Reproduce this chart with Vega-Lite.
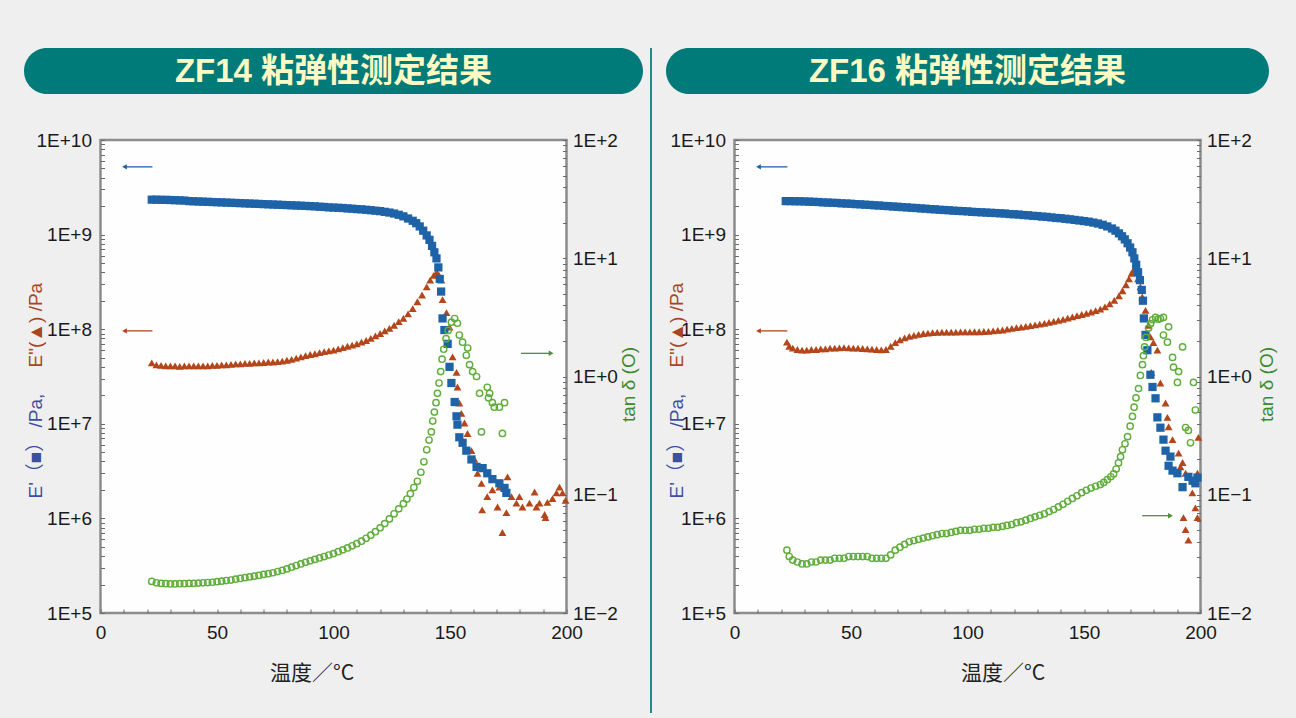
{
"$schema":"https://vega.github.io/schema/vega-lite/v6.json",
"background":"#efefef",
"padding":{"left":24,"top":48,"right":20,"bottom":5},
"config":{
 "font":"Liberation Sans",
 "view":{"stroke":"#8c8c8c","strokeWidth":2.5,"fill":"#fefefe"},
 "axis":{"labelFont":"Liberation Sans","labelFontSize":19,"labelColor":"#1a1a1a","titleFont":"Liberation Sans","titleFontSize":19,"titleFontWeight":"normal","grid":false,"domain":false,"tickColor":"#6a6a6a","tickWidth":1,"tickSize":-4,"labelOverlap":false,"labelFlush":false,"labelBound":false}
},
"datasets":{
 "e1a":[{"T":22,"v":2.34e9},{"T":24,"v":2.34e9},{"T":26,"v":2.33e9},{"T":28,"v":2.33e9},{"T":30,"v":2.32e9},{"T":32,"v":2.31e9},{"T":34,"v":2.30e9},{"T":36,"v":2.29e9},{"T":38,"v":2.26e9},{"T":40,"v":2.25e9},{"T":42,"v":2.24e9},{"T":44,"v":2.23e9},{"T":46,"v":2.22e9},{"T":48,"v":2.21e9},{"T":50,"v":2.20e9},{"T":52,"v":2.19e9},{"T":54,"v":2.18e9},{"T":56,"v":2.17e9},{"T":58,"v":2.16e9},{"T":60,"v":2.15e9},{"T":62,"v":2.14e9},{"T":64,"v":2.13e9},{"T":66,"v":2.12e9},{"T":68,"v":2.11e9},{"T":70,"v":2.10e9},{"T":72,"v":2.09e9},{"T":74,"v":2.08e9},{"T":76,"v":2.07e9},{"T":78,"v":2.06e9},{"T":80,"v":2.05e9},{"T":82,"v":2.04e9},{"T":84,"v":2.03e9},{"T":86,"v":2.02e9},{"T":88,"v":2.01e9},{"T":90,"v":2.0e9},{"T":92,"v":1.99e9},{"T":94,"v":1.97e9},{"T":96,"v":1.96e9},{"T":98,"v":1.94e9},{"T":100,"v":1.93e9},{"T":102,"v":1.92e9},{"T":104,"v":1.91e9},{"T":106,"v":1.89e9},{"T":108,"v":1.88e9},{"T":110,"v":1.86e9},{"T":112,"v":1.85e9},{"T":114,"v":1.83e9},{"T":116,"v":1.81e9},{"T":118,"v":1.79e9},{"T":120,"v":1.77e9},{"T":122,"v":1.74e9},{"T":124,"v":1.71e9},{"T":126,"v":1.67e9},{"T":128,"v":1.62e9},{"T":130,"v":1.56e9},{"T":132,"v":1.48e9},{"T":134,"v":1.4e9},{"T":135.5,"v":1.32e9},{"T":137,"v":1.22e9},{"T":138.5,"v":1.1e9},{"T":140,"v":9.8e8},{"T":141.2,"v":8.8e8},{"T":142.3,"v":7.6e8},{"T":143.3,"v":6.5e8},{"T":144.2,"v":5.6e8},{"T":145,"v":4.5e8},{"T":145.6,"v":3.4e8},{"T":146.2,"v":2.5e8},{"T":146.8,"v":1.3e8},{"T":147.6,"v":9.8e7},{"T":149,"v":7e7},{"T":149.8,"v":4e7},{"T":150.6,"v":2.7e7},{"T":152,"v":1.7e7},{"T":152.8,"v":1.2e7},{"T":153.2,"v":9.8e6},{"T":154,"v":7.2e6},{"T":155.4,"v":6.3e6},{"T":157,"v":5.2e6},{"T":159.2,"v":4.2e6},{"T":161.4,"v":3.5e6},{"T":164,"v":3.4e6},{"T":166,"v":3.0e6},{"T":168.2,"v":2.6e6},{"T":171.2,"v":2.35e6},{"T":173.4,"v":2.1e6},{"T":174.2,"v":1.86e6}],
 "e2a":[{"T":22,"v":4.4e7},{"T":24,"v":4.2e7},{"T":26,"v":4.15e7},{"T":28,"v":4.1e7},{"T":30,"v":4.1e7},{"T":32,"v":4.1e7},{"T":34,"v":4.05e7},{"T":36,"v":4.1e7},{"T":38,"v":4.1e7},{"T":40,"v":4.1e7},{"T":42,"v":4.1e7},{"T":44,"v":4.1e7},{"T":46,"v":4.1e7},{"T":48,"v":4.15e7},{"T":50,"v":4.15e7},{"T":52,"v":4.2e7},{"T":54,"v":4.2e7},{"T":56,"v":4.25e7},{"T":58,"v":4.3e7},{"T":60,"v":4.3e7},{"T":62,"v":4.35e7},{"T":64,"v":4.35e7},{"T":66,"v":4.4e7},{"T":68,"v":4.4e7},{"T":70,"v":4.45e7},{"T":72,"v":4.5e7},{"T":74,"v":4.5e7},{"T":76,"v":4.55e7},{"T":78,"v":4.6e7},{"T":80,"v":4.7e7},{"T":82,"v":4.8e7},{"T":84,"v":4.95e7},{"T":86,"v":5.1e7},{"T":88,"v":5.25e7},{"T":90,"v":5.4e7},{"T":92,"v":5.5e7},{"T":94,"v":5.65e7},{"T":96,"v":5.8e7},{"T":98,"v":5.9e7},{"T":100,"v":6.0e7},{"T":102,"v":6.2e7},{"T":104,"v":6.4e7},{"T":106,"v":6.6e7},{"T":108,"v":6.8e7},{"T":110,"v":7.0e7},{"T":112,"v":7.3e7},{"T":114,"v":7.6e7},{"T":116,"v":8.0e7},{"T":118,"v":8.5e7},{"T":120,"v":9.0e7},{"T":122,"v":9.6e7},{"T":124,"v":1.02e8},{"T":126,"v":1.1e8},{"T":128,"v":1.2e8},{"T":130,"v":1.3e8},{"T":132,"v":1.45e8},{"T":134,"v":1.65e8},{"T":136,"v":1.95e8},{"T":138,"v":2.3e8},{"T":140,"v":2.8e8},{"T":141.5,"v":3.3e8},{"T":143,"v":3.7e8},{"T":144.3,"v":4.0e8},{"T":145.3,"v":3.7e8},{"T":146.3,"v":3.3e8},{"T":146.8,"v":2.05e8},{"T":148.5,"v":1.5e8},{"T":149.8,"v":1.05e8},{"T":151.1,"v":5.1e7},{"T":152.8,"v":3.5e7},{"T":153.2,"v":2.45e7},{"T":154,"v":1.66e7},{"T":154.9,"v":1.29e7},{"T":156.2,"v":1.02e7},{"T":157.5,"v":7.9e6},{"T":159.2,"v":5.2e6},{"T":160.5,"v":4.2e6},{"T":161.8,"v":3.0e6},{"T":163.5,"v":2.35e6},{"T":163.8,"v":1.23e6},{"T":166,"v":1.7e6},{"T":168.2,"v":2.0e6},{"T":170.4,"v":1.32e6},{"T":171.2,"v":2.14e6},{"T":172.5,"v":7.1e5},{"T":174.2,"v":1.15e6},{"T":174.7,"v":2.75e6},{"T":176.4,"v":1.7e6},{"T":178.5,"v":1.45e6},{"T":179.8,"v":1.7e6},{"T":181.1,"v":1.32e6},{"T":184.1,"v":1.45e6},{"T":186.3,"v":1.9e6},{"T":187.1,"v":1.32e6},{"T":188.4,"v":1.45e6},{"T":190.6,"v":1.1e6},{"T":191,"v":1.02e6},{"T":191.8,"v":1.48e6},{"T":194,"v":1.62e6},{"T":195.7,"v":1.86e6},{"T":197,"v":2.14e6},{"T":198.3,"v":1.86e6},{"T":199.6,"v":1.55e6}],
 "ta":[{"T":22,"v":0.0185},{"T":24,"v":0.018},{"T":26,"v":0.0178},{"T":28,"v":0.0177},{"T":30,"v":0.0176},{"T":32,"v":0.0176},{"T":34,"v":0.0177},{"T":36,"v":0.0177},{"T":38,"v":0.0178},{"T":40,"v":0.0178},{"T":42,"v":0.0179},{"T":44,"v":0.018},{"T":46,"v":0.0181},{"T":48,"v":0.0182},{"T":50,"v":0.0184},{"T":52,"v":0.0186},{"T":54,"v":0.0188},{"T":56,"v":0.019},{"T":58,"v":0.0193},{"T":60,"v":0.0196},{"T":62,"v":0.0199},{"T":64,"v":0.0202},{"T":66,"v":0.0205},{"T":68,"v":0.0208},{"T":70,"v":0.0212},{"T":72,"v":0.0215},{"T":74,"v":0.0219},{"T":76,"v":0.0224},{"T":78,"v":0.0229},{"T":80,"v":0.0236},{"T":82,"v":0.0244},{"T":84,"v":0.0252},{"T":86,"v":0.026},{"T":88,"v":0.0268},{"T":90,"v":0.0276},{"T":92,"v":0.0284},{"T":94,"v":0.0292},{"T":96,"v":0.03},{"T":98,"v":0.0309},{"T":100,"v":0.0318},{"T":102,"v":0.033},{"T":104,"v":0.0342},{"T":106,"v":0.0355},{"T":108,"v":0.037},{"T":110,"v":0.0386},{"T":112,"v":0.0405},{"T":114,"v":0.0428},{"T":116,"v":0.0455},{"T":118,"v":0.0487},{"T":120,"v":0.0525},{"T":122,"v":0.057},{"T":124,"v":0.0625},{"T":126,"v":0.069},{"T":128,"v":0.076},{"T":130,"v":0.084},{"T":131.5,"v":0.092},{"T":133,"v":0.102},{"T":134.5,"v":0.115},{"T":136,"v":0.13},{"T":137.5,"v":0.155},{"T":138.8,"v":0.19},{"T":140,"v":0.24},{"T":141,"v":0.29},{"T":142,"v":0.34},{"T":142.6,"v":0.42},{"T":143.3,"v":0.5},{"T":144,"v":0.6},{"T":144.6,"v":0.72},{"T":145.3,"v":0.88},{"T":146,"v":1.1},{"T":146.6,"v":1.4},{"T":147.3,"v":1.7},{"T":148.3,"v":2.09},{"T":149.2,"v":2.45},{"T":150.6,"v":2.88},{"T":152,"v":3.09},{"T":153.2,"v":2.82},{"T":154,"v":2.24},{"T":155.4,"v":1.95},{"T":157,"v":1.51},{"T":157.6,"v":1.74},{"T":158.4,"v":1.26},{"T":159.7,"v":1.1},{"T":161.4,"v":1.0},{"T":162.7,"v":0.72},{"T":163.5,"v":0.34},{"T":166,"v":0.81},{"T":166.5,"v":0.66},{"T":167,"v":0.72},{"T":168.2,"v":0.6},{"T":169,"v":0.55},{"T":171.2,"v":0.55},{"T":172.5,"v":0.33},{"T":173.4,"v":0.6}],
 "e1b":[{"T":22,"v":2.26e9},{"T":24,"v":2.26e9},{"T":26,"v":2.25e9},{"T":28,"v":2.25e9},{"T":30,"v":2.24e9},{"T":32,"v":2.23e9},{"T":34,"v":2.22e9},{"T":36,"v":2.21e9},{"T":38,"v":2.19e9},{"T":40,"v":2.18e9},{"T":42,"v":2.17e9},{"T":44,"v":2.16e9},{"T":46,"v":2.14e9},{"T":48,"v":2.13e9},{"T":50,"v":2.12e9},{"T":52,"v":2.10e9},{"T":54,"v":2.09e9},{"T":56,"v":2.07e9},{"T":58,"v":2.06e9},{"T":60,"v":2.04e9},{"T":62,"v":2.03e9},{"T":64,"v":2.01e9},{"T":66,"v":2.0e9},{"T":68,"v":1.98e9},{"T":70,"v":1.97e9},{"T":72,"v":1.95e9},{"T":74,"v":1.94e9},{"T":76,"v":1.92e9},{"T":78,"v":1.91e9},{"T":80,"v":1.89e9},{"T":82,"v":1.88e9},{"T":84,"v":1.86e9},{"T":86,"v":1.85e9},{"T":88,"v":1.83e9},{"T":90,"v":1.82e9},{"T":92,"v":1.81e9},{"T":94,"v":1.79e9},{"T":96,"v":1.78e9},{"T":98,"v":1.77e9},{"T":100,"v":1.76e9},{"T":102,"v":1.74e9},{"T":104,"v":1.73e9},{"T":106,"v":1.72e9},{"T":108,"v":1.71e9},{"T":110,"v":1.70e9},{"T":112,"v":1.69e9},{"T":114,"v":1.68e9},{"T":116,"v":1.67e9},{"T":118,"v":1.65e9},{"T":120,"v":1.64e9},{"T":122,"v":1.63e9},{"T":124,"v":1.61e9},{"T":126,"v":1.6e9},{"T":128,"v":1.58e9},{"T":130,"v":1.57e9},{"T":132,"v":1.55e9},{"T":134,"v":1.54e9},{"T":136,"v":1.52e9},{"T":138,"v":1.5e9},{"T":140,"v":1.49e9},{"T":142,"v":1.47e9},{"T":144,"v":1.45e9},{"T":146,"v":1.43e9},{"T":148,"v":1.41e9},{"T":150,"v":1.39e9},{"T":152,"v":1.37e9},{"T":154,"v":1.34e9},{"T":156,"v":1.31e9},{"T":158,"v":1.27e9},{"T":160,"v":1.22e9},{"T":162,"v":1.16e9},{"T":163.5,"v":1.1e9},{"T":165,"v":1.03e9},{"T":166.3,"v":9.6e8},{"T":167.5,"v":8.9e8},{"T":168.7,"v":8.1e8},{"T":169.8,"v":7.3e8},{"T":170.8,"v":6.5e8},{"T":171.6,"v":5.6e8},{"T":172.4,"v":4.8e8},{"T":173.2,"v":4.0e8},{"T":174,"v":3.3e8},{"T":174.8,"v":2.6e8},{"T":175.3,"v":2.0e8},{"T":175.7,"v":1.3e8},{"T":176.4,"v":8.7e7},{"T":177.2,"v":6.0e7},{"T":178.5,"v":3.3e7},{"T":179.4,"v":2.45e7},{"T":180.7,"v":1.86e7},{"T":181.5,"v":1.17e7},{"T":182.8,"v":9.1e6},{"T":184.1,"v":6.8e6},{"T":185,"v":5.2e6},{"T":186.3,"v":3.6e6},{"T":187.1,"v":4.5e6},{"T":188,"v":3.2e6},{"T":190.1,"v":3.0e6},{"T":192.3,"v":2.14e6},{"T":194.8,"v":2.75e6},{"T":196.6,"v":2.5e6},{"T":197.8,"v":2.35e6},{"T":198.7,"v":2.7e6}],
 "e2b":[{"T":22.5,"v":7.3e7},{"T":23.5,"v":6.6e7},{"T":25,"v":6.3e7},{"T":27,"v":6.1e7},{"T":29,"v":6.0e7},{"T":31,"v":6.0e7},{"T":33,"v":6.1e7},{"T":35,"v":6.1e7},{"T":37,"v":6.2e7},{"T":39,"v":6.2e7},{"T":41,"v":6.3e7},{"T":43,"v":6.3e7},{"T":45,"v":6.35e7},{"T":47,"v":6.4e7},{"T":49,"v":6.35e7},{"T":51,"v":6.3e7},{"T":53,"v":6.3e7},{"T":55,"v":6.25e7},{"T":57,"v":6.2e7},{"T":59,"v":6.15e7},{"T":61,"v":6.1e7},{"T":63,"v":6.05e7},{"T":65,"v":6.1e7},{"T":67,"v":6.6e7},{"T":69,"v":7.2e7},{"T":71,"v":7.7e7},{"T":73,"v":8.1e7},{"T":75,"v":8.4e7},{"T":77,"v":8.6e7},{"T":79,"v":8.8e7},{"T":81,"v":9.0e7},{"T":83,"v":9.1e7},{"T":85,"v":9.2e7},{"T":87,"v":9.25e7},{"T":89,"v":9.3e7},{"T":91,"v":9.3e7},{"T":93,"v":9.3e7},{"T":95,"v":9.3e7},{"T":97,"v":9.35e7},{"T":99,"v":9.35e7},{"T":101,"v":9.35e7},{"T":103,"v":9.4e7},{"T":105,"v":9.4e7},{"T":107,"v":9.45e7},{"T":109,"v":9.5e7},{"T":111,"v":9.6e7},{"T":113,"v":9.7e7},{"T":115,"v":9.8e7},{"T":117,"v":1.0e8},{"T":119,"v":1.02e8},{"T":121,"v":1.04e8},{"T":123,"v":1.05e8},{"T":125,"v":1.07e8},{"T":127,"v":1.09e8},{"T":129,"v":1.11e8},{"T":131,"v":1.13e8},{"T":133,"v":1.15e8},{"T":135,"v":1.18e8},{"T":137,"v":1.21e8},{"T":139,"v":1.24e8},{"T":141,"v":1.27e8},{"T":143,"v":1.31e8},{"T":145,"v":1.35e8},{"T":147,"v":1.39e8},{"T":149,"v":1.43e8},{"T":151,"v":1.47e8},{"T":153,"v":1.52e8},{"T":155,"v":1.57e8},{"T":157,"v":1.63e8},{"T":159,"v":1.72e8},{"T":161,"v":1.85e8},{"T":163,"v":2.02e8},{"T":165,"v":2.25e8},{"T":166.5,"v":2.55e8},{"T":168,"v":2.95e8},{"T":169.3,"v":3.4e8},{"T":170.4,"v":3.9e8},{"T":171.2,"v":4.2e8},{"T":172.2,"v":4.0e8},{"T":173.2,"v":3.4e8},{"T":174.2,"v":2.8e8},{"T":175,"v":2.2e8},{"T":176.4,"v":1.58e8},{"T":177.7,"v":1.1e8},{"T":178.5,"v":8.3e7},{"T":179.8,"v":7.2e7},{"T":181.5,"v":6.0e7},{"T":178.9,"v":3.5e7},{"T":182.8,"v":2.7e7},{"T":185,"v":1.66e7},{"T":185.8,"v":1.17e7},{"T":186.3,"v":9.3e6},{"T":188,"v":6.8e6},{"T":190.6,"v":4.9e6},{"T":191.4,"v":3.5e6},{"T":192.3,"v":3.9e6},{"T":193.6,"v":3.0e6},{"T":196.5,"v":1.86e6},{"T":197.8,"v":1.29e6},{"T":192.7,"v":1.02e6},{"T":193.6,"v":7.6e5},{"T":194.8,"v":5.9e5},{"T":198.7,"v":1.02e6},{"T":198.7,"v":3.0e6},{"T":199.1,"v":7.2e6}],
 "tb":[{"T":22.5,"v":0.034},{"T":23.5,"v":0.03},{"T":25,"v":0.028},{"T":27,"v":0.027},{"T":29,"v":0.026},{"T":31,"v":0.026},{"T":33,"v":0.027},{"T":35,"v":0.027},{"T":37,"v":0.028},{"T":39,"v":0.028},{"T":41,"v":0.028},{"T":43,"v":0.029},{"T":45,"v":0.029},{"T":47,"v":0.029},{"T":49,"v":0.03},{"T":51,"v":0.03},{"T":53,"v":0.03},{"T":55,"v":0.03},{"T":57,"v":0.03},{"T":59,"v":0.029},{"T":61,"v":0.029},{"T":63,"v":0.029},{"T":65,"v":0.029},{"T":67,"v":0.031},{"T":69,"v":0.034},{"T":71,"v":0.036},{"T":73,"v":0.038},{"T":75,"v":0.04},{"T":77,"v":0.041},{"T":79,"v":0.042},{"T":81,"v":0.043},{"T":83,"v":0.044},{"T":85,"v":0.045},{"T":87,"v":0.046},{"T":89,"v":0.047},{"T":91,"v":0.047},{"T":93,"v":0.048},{"T":95,"v":0.049},{"T":97,"v":0.05},{"T":99,"v":0.05},{"T":101,"v":0.05},{"T":103,"v":0.051},{"T":105,"v":0.051},{"T":107,"v":0.052},{"T":109,"v":0.052},{"T":111,"v":0.053},{"T":113,"v":0.053},{"T":115,"v":0.054},{"T":117,"v":0.055},{"T":119,"v":0.056},{"T":121,"v":0.058},{"T":123,"v":0.059},{"T":125,"v":0.061},{"T":127,"v":0.063},{"T":129,"v":0.065},{"T":131,"v":0.067},{"T":133,"v":0.069},{"T":135,"v":0.072},{"T":137,"v":0.075},{"T":139,"v":0.079},{"T":141,"v":0.083},{"T":143,"v":0.088},{"T":145,"v":0.093},{"T":147,"v":0.098},{"T":149,"v":0.104},{"T":151,"v":0.109},{"T":153,"v":0.114},{"T":155,"v":0.118},{"T":157,"v":0.122},{"T":158.5,"v":0.127},{"T":160,"v":0.134},{"T":161.5,"v":0.142},{"T":162.7,"v":0.15},{"T":163.8,"v":0.165},{"T":164.8,"v":0.186},{"T":165.7,"v":0.21},{"T":166.5,"v":0.24},{"T":167.6,"v":0.27},{"T":168.7,"v":0.31},{"T":169.8,"v":0.38},{"T":170.8,"v":0.46},{"T":171.5,"v":0.55},{"T":172.3,"v":0.66},{"T":173.4,"v":0.79},{"T":174.2,"v":1.02},{"T":175.1,"v":1.26},{"T":175.5,"v":1.5},{"T":176,"v":1.78},{"T":176.6,"v":2.14},{"T":177.7,"v":2.57},{"T":178.6,"v":2.8},{"T":179.4,"v":3.02},{"T":180.7,"v":3.16},{"T":181.8,"v":3.05},{"T":182.8,"v":3.09},{"T":184.1,"v":3.16},{"T":184.1,"v":2.24},{"T":185.8,"v":1.95},{"T":186.3,"v":2.63},{"T":188,"v":1.45},{"T":188.4,"v":1.2},{"T":190.1,"v":0.89},{"T":190.6,"v":1.1},{"T":192.3,"v":1.78},{"T":193.6,"v":0.37},{"T":194.8,"v":0.35},{"T":195.7,"v":0.275},{"T":197,"v":0.89},{"T":197.8,"v":0.52}]
},
"spacing":14,
"hconcat":[
 {"spacing":7,"hconcat":[
 {"vconcat":[
   {"width":619,"height":46,"view":{"fill":"#007b79","stroke":null,"cornerRadius":23},
    "data":{"values":[{"t":"ZF14 粘弹性测定结果"}]},
    "mark":{"type":"text","font":"Liberation Sans, Noto Sans CJK SC","fontSize":33,"fontWeight":"bold","color":"#fff9c4","baseline":"middle","align":"center","dy":1},
    "encoding":{"text":{"field":"t"}}},
   {"width":466,"height":473,
    "encoding":{"x":{"field":"T","type":"quantitative","scale":{"domain":[0,200],"nice":false},"axis":{"values":[0,10,20,30,40,50,60,70,80,90,100,110,120,130,140,150,160,170,180,190,200],"labelExpr":"datum.value % 50 == 0 ? datum.label : ''","labelPadding":14,"title":"温度／°C","titleFont":"Noto Sans CJK SC","titleFontSize":21,"titleColor":"#222222","titleX":211,"titleY":60,"titleBaseline":"middle","titleAlign":"center"}}},
    "layer":[
      {"data":{"name":"e2a"},"mark":{"type":"point","shape":"triangle-up","filled":true,"size":62,"color":"#b3461b","opacity":1},
       "encoding":{"y":{"field":"v","type":"quantitative","scale":{"type":"log","domain":[1e5,1e10]},"axis":{"orient":"left","labels":false,"ticks":false,"title":"E\"(▲) /Pa","titleColor":"#a9441f","titleAngle":270,"titleAlign":"left","titleBaseline":"middle","titleX":-65,"titleY":227}}}},
      {"encoding":{"y":{"field":"v","type":"quantitative","scale":{"type":"log","domain":[1e5,1e10]},"axis":{"orient":"left","values":[1e5,2e5,3e5,4e5,5e5,6e5,7e5,8e5,9e5,1e6,2e6,3e6,4e6,5e6,6e6,7e6,8e6,9e6,1e7,2e7,3e7,4e7,5e7,6e7,7e7,8e7,9e7,1e8,2e8,3e8,4e8,5e8,6e8,7e8,8e8,9e8,1e9,2e9,3e9,4e9,5e9,6e9,7e9,8e9,9e9,1e10],"labelExpr":"abs(log(datum.value)/LN10 - round(log(datum.value)/LN10)) < 0.001 ? '1E+' + round(log(datum.value)/LN10) : ''","labelPadding":13,"title":"E'（■） /Pa,","titleFont":"Liberation Sans, Noto Sans CJK JP","titleColor":"#3d4f9f","titleAngle":270,"titleAlign":"left","titleBaseline":"middle","titleX":-65,"titleY":358}}},
       "layer":[
         {"data":{"name":"e1a"},"mark":{"type":"point","shape":"square","filled":true,"size":68,"color":"#1e63a8","opacity":1}},
         {"data":{"values":[{"T":10.3,"T2":22.3,"v":5.2e9}]},"mark":{"type":"rule","color":"#1e63a8","strokeWidth":1.3},"encoding":{"x2":{"field":"T2"}}},
         {"data":{"values":[{"T":10.3,"v":5.2e9}]},"mark":{"type":"point","shape":"triangle-left","filled":true,"size":30,"color":"#1e63a8","opacity":1}},
         {"data":{"values":[{"T":10.3,"T2":22.3,"v":9.6e7}]},"mark":{"type":"rule","color":"#b3461b","strokeWidth":1.3},"encoding":{"x2":{"field":"T2"}}},
         {"data":{"values":[{"T":10.3,"v":9.6e7}]},"mark":{"type":"point","shape":"triangle-left","filled":true,"size":30,"color":"#b3461b","opacity":1}}
       ]},
      {"encoding":{"y":{"field":"v","type":"quantitative","scale":{"type":"log","domain":[0.01,100]},"axis":{"orient":"right","values":[0.01,0.02,0.03,0.04,0.05,0.06,0.07,0.08,0.09,0.1,0.2,0.3,0.4,0.5,0.6,0.7,0.8,0.9,1,2,3,4,5,6,7,8,9,10,20,30,40,50,60,70,80,90,100],"labelExpr":"abs(log(datum.value)/LN10 - round(log(datum.value)/LN10)) < 0.001 ? (datum.value >= 1 ? '1E+' + round(log(datum.value)/LN10) : '1E−' + round(-log(datum.value)/LN10)) : ''","labelPadding":10,"title":"tan δ (O)","titleColor":"#3b8a2c","titleAngle":270,"titleAlign":"center","titleBaseline":"middle","titleX":62,"titleY":244}}},
       "layer":[
         {"data":{"name":"ta"},"mark":{"type":"point","shape":"circle","filled":false,"size":40,"strokeWidth":1.4,"color":"#5fad3a","opacity":1}},
         {"data":{"values":[{"T":180.5,"T2":193.4,"v":1.57}]},"mark":{"type":"rule","color":"#4f8f35","strokeWidth":1.3},"encoding":{"x2":{"field":"T2"}}},
         {"data":{"values":[{"T":193.4,"v":1.57}]},"mark":{"type":"point","shape":"triangle-right","filled":true,"size":30,"color":"#4f8f35","opacity":1}}
       ]}
    ],
    "resolve":{"scale":{"y":"independent"},"axis":{"y":"independent"}}}
  ],"spacing":46,"center":true,"bounds":"flush"},
 {"width":2,"height":665,"view":{"fill":"#26898a","stroke":null},"data":{"values":[{"t":""}]},"mark":{"type":"text"},"encoding":{"text":{"field":"t"}}}
 ]},
 {"vconcat":[
   {"width":603,"height":46,"view":{"fill":"#007b79","stroke":null,"cornerRadius":23},
    "data":{"values":[{"t":"ZF16 粘弹性测定结果"}]},
    "mark":{"type":"text","font":"Liberation Sans, Noto Sans CJK SC","fontSize":33,"fontWeight":"bold","color":"#fff9c4","baseline":"middle","align":"center","dy":1},
    "encoding":{"text":{"field":"t"}}},
   {"width":466,"height":473,
    "encoding":{"x":{"field":"T","type":"quantitative","scale":{"domain":[0,200],"nice":false},"axis":{"values":[0,10,20,30,40,50,60,70,80,90,100,110,120,130,140,150,160,170,180,190,200],"labelExpr":"datum.value % 50 == 0 ? datum.label : ''","labelPadding":14,"title":"温度／°C","titleFont":"Noto Sans CJK SC","titleFontSize":21,"titleColor":"#222222","titleX":268,"titleY":60,"titleBaseline":"middle","titleAlign":"center"}}},
    "layer":[
      {"data":{"name":"e2b"},"mark":{"type":"point","shape":"triangle-up","filled":true,"size":62,"color":"#b3461b","opacity":1},
       "encoding":{"y":{"field":"v","type":"quantitative","scale":{"type":"log","domain":[1e5,1e10]},"axis":{"orient":"left","labels":false,"ticks":false,"title":"E\"(▲) /Pa","titleColor":"#a9441f","titleAngle":270,"titleAlign":"left","titleBaseline":"middle","titleX":-58,"titleY":227}}}},
      {"encoding":{"y":{"field":"v","type":"quantitative","scale":{"type":"log","domain":[1e5,1e10]},"axis":{"orient":"left","values":[1e5,2e5,3e5,4e5,5e5,6e5,7e5,8e5,9e5,1e6,2e6,3e6,4e6,5e6,6e6,7e6,8e6,9e6,1e7,2e7,3e7,4e7,5e7,6e7,7e7,8e7,9e7,1e8,2e8,3e8,4e8,5e8,6e8,7e8,8e8,9e8,1e9,2e9,3e9,4e9,5e9,6e9,7e9,8e9,9e9,1e10],"labelExpr":"abs(log(datum.value)/LN10 - round(log(datum.value)/LN10)) < 0.001 ? '1E+' + round(log(datum.value)/LN10) : ''","labelPadding":13,"title":"E'（■） /Pa,","titleFont":"Liberation Sans, Noto Sans CJK JP","titleColor":"#3d4f9f","titleAngle":270,"titleAlign":"left","titleBaseline":"middle","titleX":-58,"titleY":358}}},
       "layer":[
         {"data":{"name":"e1b"},"mark":{"type":"point","shape":"square","filled":true,"size":68,"color":"#1e63a8","opacity":1}},
         {"data":{"values":[{"T":10.3,"T2":22.7,"v":5.2e9}]},"mark":{"type":"rule","color":"#1e63a8","strokeWidth":1.3},"encoding":{"x2":{"field":"T2"}}},
         {"data":{"values":[{"T":10.3,"v":5.2e9}]},"mark":{"type":"point","shape":"triangle-left","filled":true,"size":30,"color":"#1e63a8","opacity":1}},
         {"data":{"values":[{"T":10.3,"T2":22.7,"v":9.6e7}]},"mark":{"type":"rule","color":"#b3461b","strokeWidth":1.3},"encoding":{"x2":{"field":"T2"}}},
         {"data":{"values":[{"T":10.3,"v":9.6e7}]},"mark":{"type":"point","shape":"triangle-left","filled":true,"size":30,"color":"#b3461b","opacity":1}}
       ]},
      {"encoding":{"y":{"field":"v","type":"quantitative","scale":{"type":"log","domain":[0.01,100]},"axis":{"orient":"right","values":[0.01,0.02,0.03,0.04,0.05,0.06,0.07,0.08,0.09,0.1,0.2,0.3,0.4,0.5,0.6,0.7,0.8,0.9,1,2,3,4,5,6,7,8,9,10,20,30,40,50,60,70,80,90,100],"labelExpr":"abs(log(datum.value)/LN10 - round(log(datum.value)/LN10)) < 0.001 ? (datum.value >= 1 ? '1E+' + round(log(datum.value)/LN10) : '1E−' + round(-log(datum.value)/LN10)) : ''","labelPadding":10,"title":"tan δ (O)","titleColor":"#3b8a2c","titleAngle":270,"titleAlign":"center","titleBaseline":"middle","titleX":66,"titleY":244}}},
       "layer":[
         {"data":{"name":"tb"},"mark":{"type":"point","shape":"circle","filled":false,"size":40,"strokeWidth":1.4,"color":"#5fad3a","opacity":1}},
         {"data":{"values":[{"T":175,"T2":187.1,"v":0.0665}]},"mark":{"type":"rule","color":"#4f8f35","strokeWidth":1.3},"encoding":{"x2":{"field":"T2"}}},
         {"data":{"values":[{"T":187.1,"v":0.0665}]},"mark":{"type":"point","shape":"triangle-right","filled":true,"size":30,"color":"#4f8f35","opacity":1}}
       ]}
    ],
    "resolve":{"scale":{"y":"independent"},"axis":{"y":"independent"}}}
  ],"spacing":46,"center":true,"bounds":"flush"}
]
}
